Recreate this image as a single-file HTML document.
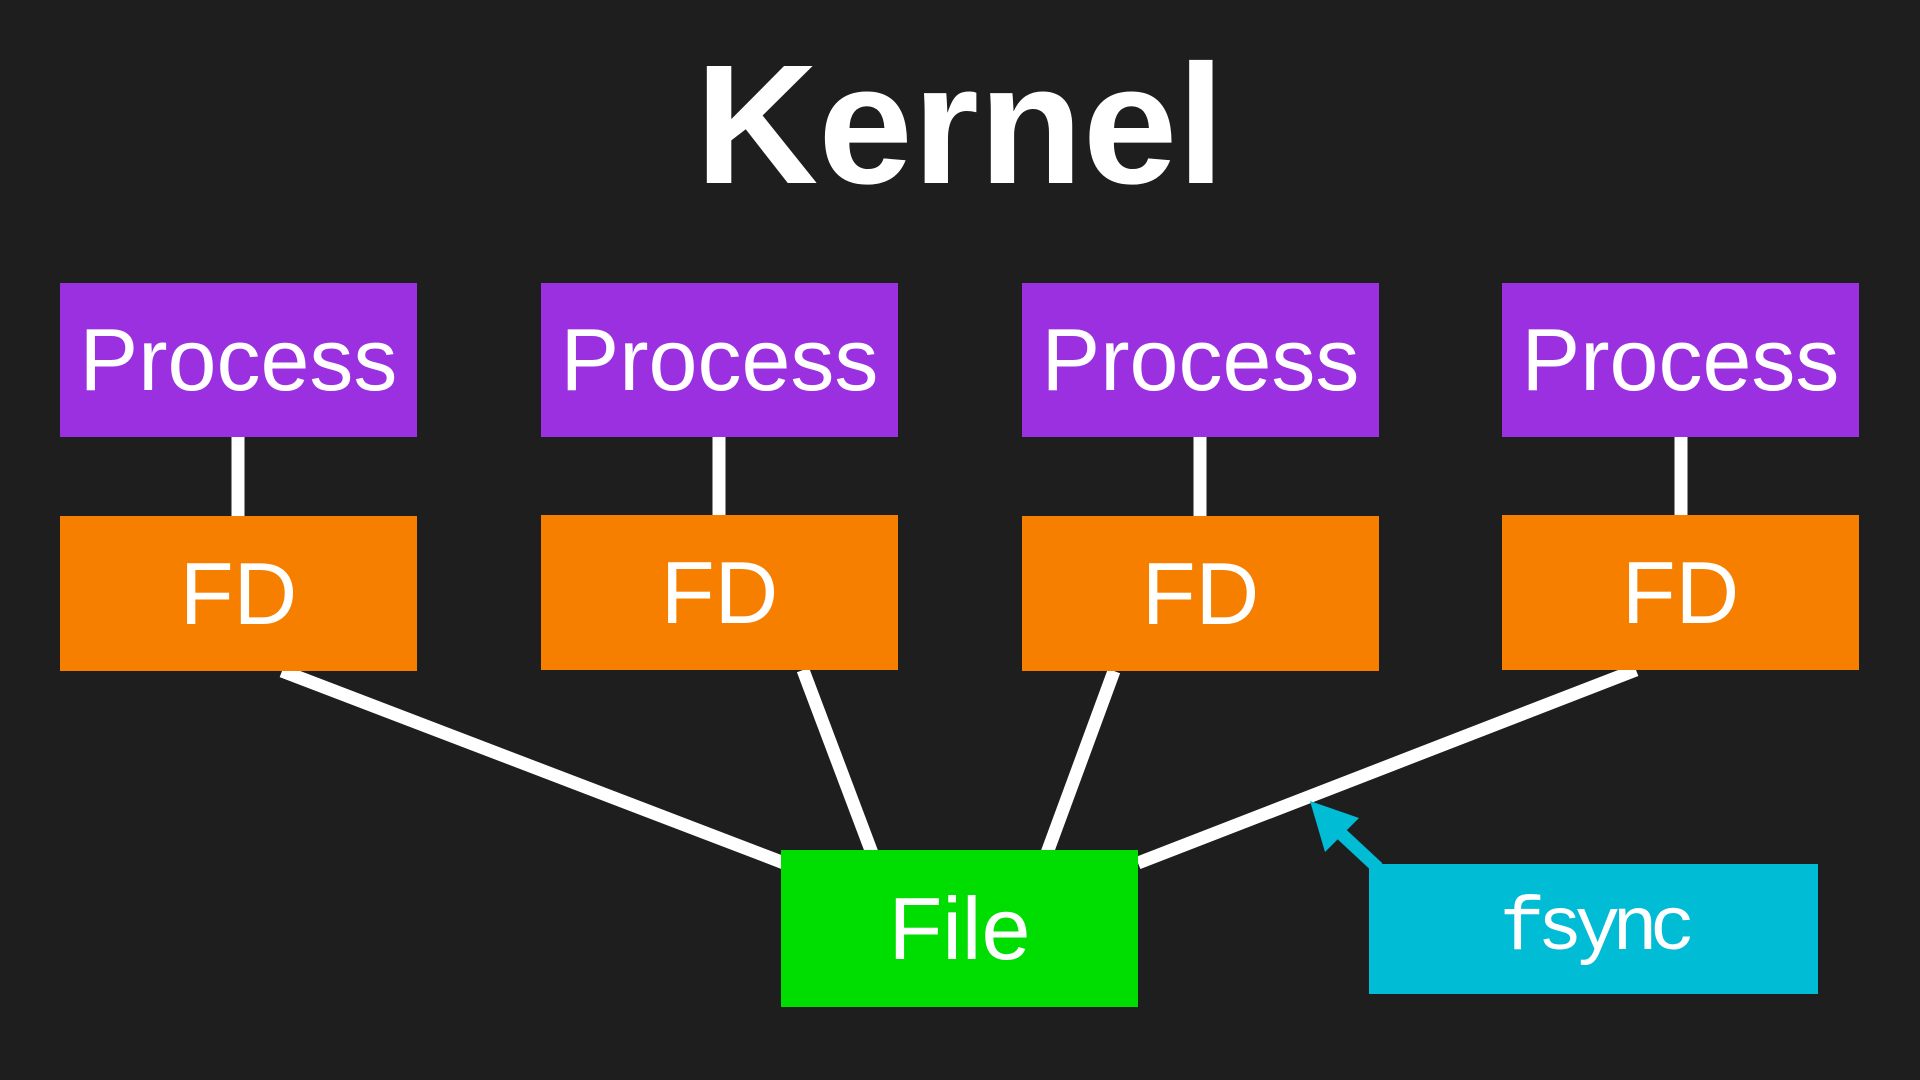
<!DOCTYPE html>
<html><head><meta charset="utf-8"><style>
html,body{margin:0;padding:0;background:#1e1e1e;}
body{width:1920px;height:1080px;position:relative;overflow:hidden;font-family:"Liberation Sans","DejaVu Sans",sans-serif;}
.b{position:absolute;display:flex;align-items:center;justify-content:center;color:#fff;font-size:88px;}
.p{background:#9b30e0;top:283px;height:154px;width:357px;}
.f{background:#f77f00;top:516px;height:155px;width:357px;}
</style></head><body>
<svg width="1920" height="1080" style="position:absolute;left:0;top:0">
<g stroke="#fff" stroke-width="13">
<line x1="238" y1="437" x2="238" y2="516"/>
<line x1="719" y1="437" x2="719" y2="516"/>
<line x1="1200" y1="437" x2="1200" y2="516"/>
<line x1="1681" y1="437" x2="1681" y2="516"/>
<line x1="282" y1="671" x2="784" y2="863"/>
<line x1="803" y1="670" x2="872" y2="853"/>
<line x1="1114" y1="671" x2="1047" y2="853"/>
<line x1="1636" y1="670" x2="1138" y2="863"/>
</g>
<line x1="1378" y1="868" x2="1335" y2="828" stroke="#00bcd4" stroke-width="13"/>
<polygon points="1310,801 1359,818 1325,852" fill="#00bcd4"/>
</svg>
<div style="position:absolute;left:0;width:1920px;top:40px;text-align:center;color:#fff;font-weight:bold;font-size:170px;line-height:170px;">Kernel</div>
<div class="b p" style="left:60px">Process</div>
<div class="b p" style="left:541px">Process</div>
<div class="b p" style="left:1022px">Process</div>
<div class="b p" style="left:1502px">Process</div>
<div class="b f" style="left:60px">FD</div>
<div class="b f" style="left:541px;top:515px">FD</div>
<div class="b f" style="left:1022px">FD</div>
<div class="b f" style="left:1502px;top:515px">FD</div>
<div class="b" style="background:#00dd00;left:781px;top:850px;width:357px;height:157px;">File</div>
<div class="b" style="background:#00bcd4;left:1369px;top:864px;width:449px;height:130px;font-family:'Liberation Mono',monospace;font-size:76px;letter-spacing:-8px;">fsync</div>
</body></html>
